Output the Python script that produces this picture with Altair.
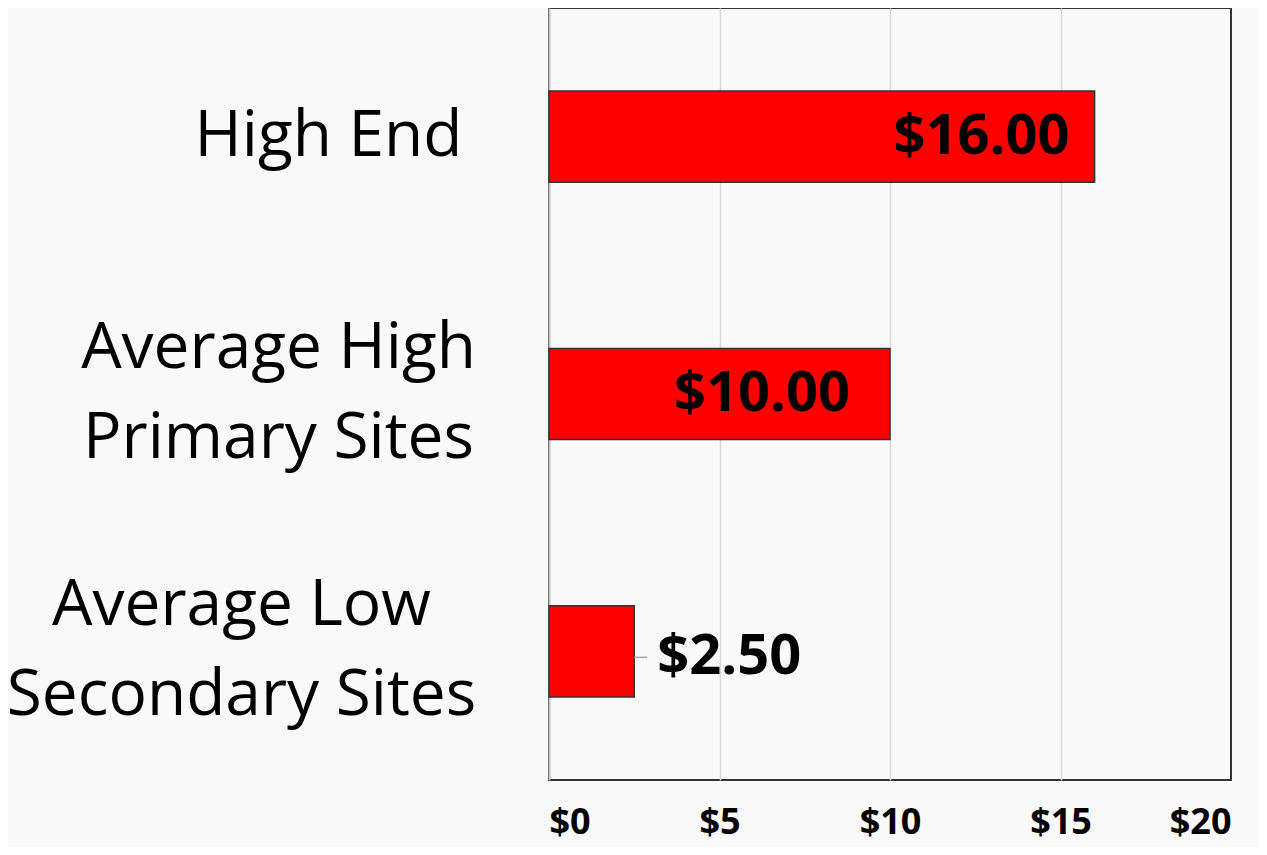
import altair as alt
import pandas as pd

categories = ["High End", "Average High|Primary Sites", "Average Low|Secondary Sites"]
values = [16.00, 10.00, 2.50]
value_labels = ["$16.00", "$10.00", "$2.50"]
x_ticks = [0, 5, 10, 15, 20]

df = pd.DataFrame({"cat": categories, "value": values, "label": value_labels})

FONT = "Open Sans"

y_enc = alt.Y(
    "cat:N",
    sort=categories,
    scale=alt.Scale(paddingInner=0.646, paddingOuter=0.323),
    axis=alt.Axis(
        title=None,
        ticks=False,
        tickSize=0,
        domain=True,
        domainColor="#c0c0c0",
        domainWidth=2,
        labelExpr="split(datum.label, '|')",
        labelFont=FONT,
        labelFontSize=64,
        labelColor="#000000",
        labelLimit=800,
        labelLineHeight=90,
        labelAlign="center",
        labelBaseline="middle",
        labelOffset={
            "condition": {"test": "datum.value == 'High End'", "value": 0},
            "value": -45,
        },
        labelPadding={
            "condition": [
                {"test": "datum.value == 'High End'", "value": 221},
                {"test": "datum.value == 'Average High|Primary Sites'", "value": 271},
            ],
            "value": 308,
        },
    ),
)

x_enc = alt.X(
    "value:Q",
    scale=alt.Scale(domain=[0, 20], nice=False),
    axis=alt.Axis(
        title=None,
        values=x_ticks,
        labelExpr="'$' + datum.value",
        labelFont=FONT,
        labelFontSize=36,
        labelFontWeight="bold",
        labelColor="#000000",
        labelPadding=25,
        ticks=False,
        tickSize=0,
        domain=False,
        grid=True,
        gridColor={
            "condition": {"test": "datum.value == 0 || datum.value == 20", "value": "transparent"},
            "value": "#d9d9d9",
        },
        gridWidth=1.5,
    ),
)

base = alt.Chart(df)

bars = base.mark_bar(color="#ff0000", stroke="#333333", strokeWidth=1.5).encode(x=x_enc, y=y_enc)

text_props = dict(font=FONT, fontSize=56, fontWeight="bold", color="#000000", baseline="middle")

lab_hi = base.transform_filter("datum.value >= 15").mark_text(align="right", dx=-25, **text_props).encode(
    x="value:Q", y=alt.Y("cat:N", sort=categories), text="label:N")
lab_mid = base.transform_filter("datum.value >= 5 && datum.value < 15").mark_text(align="right", dx=-40, **text_props).encode(
    x="value:Q", y=alt.Y("cat:N", sort=categories), text="label:N")
lab_lo = base.transform_filter("datum.value < 5").mark_text(align="left", dx=23, dy=6, **text_props).encode(
    x="value:Q", y=alt.Y("cat:N", sort=categories), text="label:N")

leader = base.transform_filter("datum.value < 5").transform_calculate(
    end="datum.value + 0.38"
).mark_rule(color="#a6a6a6", strokeWidth=1.5, yOffset=6).encode(
    x="value:Q", x2="end:Q", y=alt.Y("cat:N", sort=categories))

chart = alt.layer(bars, leader, lab_hi, lab_mid, lab_lo).properties(
    width=682,
    height=772,
    autosize=alt.AutoSizeParams(type="none"),
    padding={"left": 541, "top": 0, "right": 28, "bottom": 67},
    background="#f9f9f9",
).configure_view(stroke="#333333", strokeWidth=2)

chart.save("out.html", embed_options={"renderer": "svg", "actions": False})
